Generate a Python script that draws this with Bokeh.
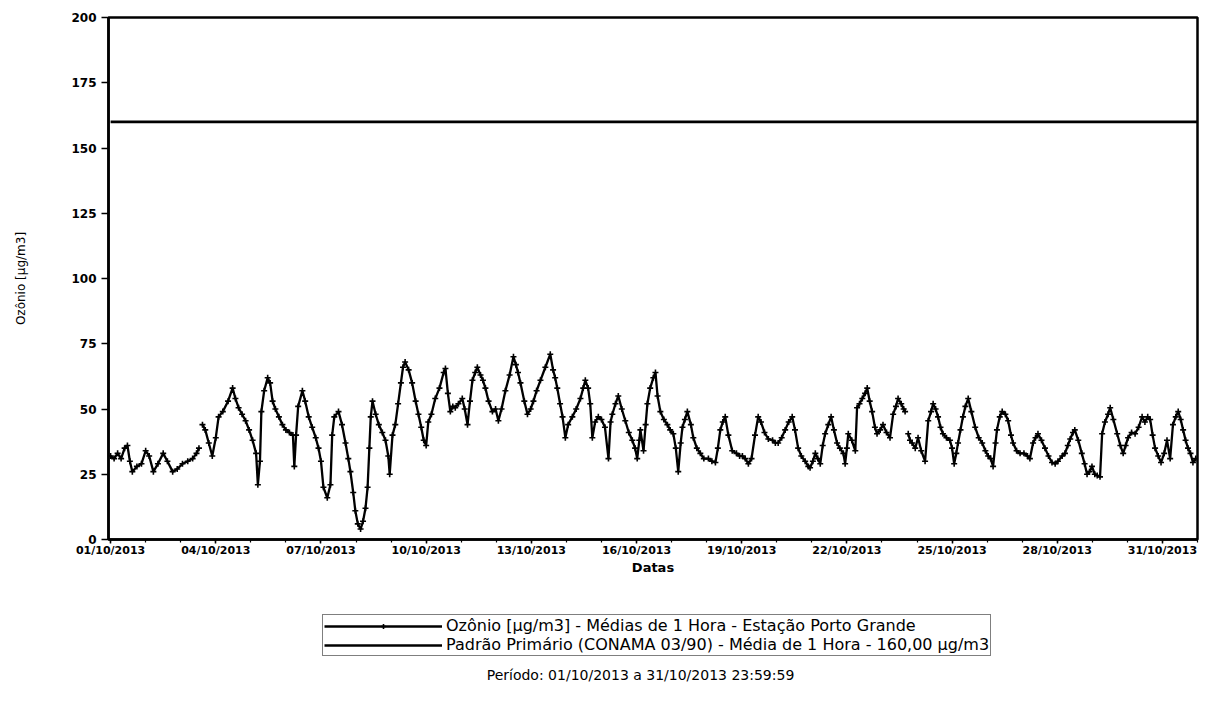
import numpy as np
from bokeh.plotting import figure
from bokeh.layouts import column
from bokeh.models import Range1d, FixedTicker, Legend, LegendItem, Label
from bokeh.embed import file_html
from bokeh.resources import INLINE

# ---------------- data ----------------
tick_days = [0, 3, 6, 9, 12, 15, 18, 21, 24, 27, 30]
tick_labels = ["01/10/2013", "04/10/2013", "07/10/2013", "10/10/2013",
               "13/10/2013", "16/10/2013", "19/10/2013", "22/10/2013",
               "25/10/2013", "28/10/2013", "31/10/2013"]
minor_days = list(range(0, 32))
y_ticks = [0, 25, 50, 75, 100, 125, 150, 175, 200]

padrao = 160.0
period_start = 0.0       # 01/10/2013 00:00
period_end = 31.0        # 31/10/2013 23:59:59

nan = float("nan")
# time in days since 01/10/2013 00:00
t_days = [
    0.00, 0.10, 0.20, 0.30, 0.40, 0.48, 0.55, 0.62, 0.75, 0.88,
    1.00, 1.10, 1.22, 1.35, 1.50, 1.62, 1.77, 1.90, 2.05, 2.20,
    2.34, 2.45, 2.52, 2.56, 2.62, 2.70, 2.80, 2.90, 3.00, 3.08,
    3.20, 3.35, 3.48, 3.56, 3.65, 3.75, 3.85, 3.95, 4.05, 4.15,
    4.20, 4.26, 4.30, 4.38, 4.48, 4.55, 4.62, 4.70, 4.80, 4.90,
    5.00, 5.10, 5.20, 5.24, 5.29, 5.35, 5.47, 5.55, 5.65, 5.75,
    5.85, 5.93, 6.00, 6.07, 6.18, 6.27, 6.32, 6.38, 6.50, 6.60,
    6.70, 6.78, 6.84, 6.92, 6.98, 7.05, 7.13, 7.20, 7.27, 7.33,
    7.38, 7.42, 7.47, 7.56, 7.65, 7.75, 7.84, 7.92, 7.96, 8.04,
    8.12, 8.20, 8.28, 8.34, 8.40, 8.50, 8.60, 8.70, 8.78, 8.86,
    8.93, 9.00, 9.06, 9.15, 9.26, 9.38, 9.50, 9.55, 9.62, 9.69,
    9.76, 9.83, 9.92, 10.03, 10.10, 10.18, 10.25, 10.32, 10.40, 10.46,
    10.55, 10.62, 10.69, 10.78, 10.89, 10.98, 11.06, 11.15, 11.26, 11.38,
    11.49, 11.56, 11.62, 11.69, 11.80, 11.89, 11.98, 12.06, 12.15, 12.26,
    12.40, 12.54, 12.62, 12.68, 12.74, 12.82, 12.89, 12.97, 13.05, 13.17,
    13.28, 13.40, 13.48, 13.54, 13.62, 13.68, 13.74, 13.82, 13.91, 14.00,
    14.10, 14.20, 14.26, 14.31, 14.40, 14.48, 14.58, 14.68, 14.78, 14.88,
    14.96, 15.02, 15.08, 15.11, 15.20, 15.26, 15.31, 15.39, 15.48, 15.54,
    15.60, 15.68, 15.78, 15.88, 15.96, 16.05, 16.12, 16.19, 16.26, 16.31,
    16.38, 16.45, 16.55, 16.62, 16.72, 16.82, 16.92, 17.05, 17.15, 17.25,
    17.32, 17.39, 17.46, 17.53, 17.62, 17.73, 17.85, 17.94, 18.02, 18.10,
    18.19, 18.28, 18.38, 18.47, 18.55, 18.65, 18.76, 18.88, 18.96, 19.04,
    19.14, 19.24, 19.34, 19.44, 19.52, 19.61, 19.70, 19.81, 19.90, 19.95,
    20.03, 20.10, 20.17, 20.24, 20.31, 20.38, 20.47, 20.55, 20.63, 20.72,
    20.80, 20.90, 20.95, 21.00, 21.04, 21.14, 21.24, 21.29, 21.36, 21.44,
    21.52, 21.58, 21.65, 21.72, 21.80, 21.86, 21.95, 22.03, 22.13, 22.23,
    22.32, 22.40, 22.46, 22.55, 22.62, 22.66, 22.70, 22.75, 22.80, 22.86,
    22.95, 23.03, 23.12, 23.23, 23.32, 23.40, 23.46, 23.53, 23.60, 23.67,
    23.74, 23.84, 23.94, 24.00, 24.06, 24.12, 24.17, 24.24, 24.31, 24.38,
    24.46, 24.55, 24.66, 24.76, 24.86, 24.95, 25.03, 25.10, 25.17, 25.24,
    25.28, 25.36, 25.43, 25.52, 25.60, 25.68, 25.74, 25.84, 25.94, 26.05,
    26.15, 26.22, 26.31, 26.38, 26.45, 26.55, 26.65, 26.75, 26.85, 26.94,
    27.02, 27.14, 27.22, 27.30, 27.37, 27.45, 27.50, 27.60, 27.70, 27.78,
    27.85, 27.92, 27.99, 28.07, 28.14, 28.22, 28.28, 28.36, 28.45, 28.51,
    28.60, 28.71, 28.80, 28.88, 28.95, 29.02, 29.12, 29.22, 29.32, 29.42,
    29.50, 29.58, 29.65, 29.72, 29.79, 29.88, 29.96, 30.05, 30.13, 30.22,
    30.30, 30.38, 30.45, 30.52, 30.59, 30.66, 30.73, 30.80, 30.87, 30.95,
]
ozone = [
    32, 31, 33, 31, 35, 36, 30, 26, 28, 29,
    34, 32, 26, 29, 33, 30, 26, 27, 29, 30,
    31, 33, 35, nan, 44, 42, 37, 32, 39, 47,
    49, 53, 58, 54, 50.5, 48, 45.5, 42, 38, 33,
    21, 30, 49, 57, 62, 60, 53, 50, 47, 44,
    42, 41, 40, 28, 40, 51, 57, 53, 47, 43,
    39, 35, 30, 20, 16, 21, 40, 47, 49, 44,
    37, 31, 26, 18, 11, 6, 4, 7, 12, 20,
    35, 47, 53, 48, 44, 41, 38, 32, 25, 40,
    44, 52, 60, 66, 68, 65, 60, 53, 48, 43,
    38, 36, 45, 48, 54, 58, 64, 65.5, 56, 49,
    51, 50.5, 52, 54, 50, 44, 53, 61, 64, 66,
    63, 61, 58, 53, 49, 50, 45.5, 50, 57, 63,
    70, 67, 64, 60, 53, 48, 50, 53, 57, 61,
    66, 71, 65, 62, 58, 52, 47, 39, 44, 47,
    50, 54, 58, 61, 58, 52, 39, 45, 47, 46,
    43, 31, 45, 48, 52, 55, 50, 45.5, 41, 38,
    35, 31, 38, 42, 34, 44, 52, 58, 62, 64,
    55, 49, 46, 44, 42, 40.5, 35, 26, 37, 43,
    46, 49, 44, 39, 35, 33, 31, 31, 30, 29.5,
    35, 42, 45, 47, 40, 34, 33, 32, 32, 31,
    29, 31, 40, 47, 45, 41, 38.5, 38, 37, 37,
    39, 42, 45, 47, 42, 35, 32, 30, 28, 27.5,
    30, 33, 31, 29, 36, 40.5, 44, 47, 42, 37,
    35, 33, 29, 35, 40.5, 38, 34, 50.5, 52, 54,
    56, 58, 53, 49, 43, 40.5, 42, 44, 41, 39,
    48, 51, 54, 52, 50, 49, nan, 40.5, 38, 37,
    35, 39, 34, 30, 45.5, 49, 52, 50, 47, 43,
    40.5, 39, 38, 35, 29, 33, 37, 42, 47, 51,
    54, 49, 43, 39, 37, 34, 32, 31, 28, 37,
    42, 47, 49, 48, 45.5, 40, 37, 34, 33, 33,
    32, 31, 37, 39, 40.5, 38, 35, 32, 29.5, 29,
    30, 32, 33, 36, 38.5, 41, 42, 38, 33, 29,
    25, 26, 28, 25, 24.5, 24, 40.5, 45, 48, 50.5,
    46, 40.5, 36, 33, 36, 39, 41, 40.5, 43, 47,
    45, 47, 46, 40, 35, 32, 29.5, 33, 38, 31,
    44, 47, 49, 46, 42, 38, 35, 33, 29.5, 31,
]

series_label = "Ozônio [µg/m3] - Médias de 1 Hora - Estação Porto Grande"
padrao_label = "Padrão Primário (CONAMA 03/90) - Média de 1 Hora - 160,00 µg/m3"
period_text = "Período: 01/10/2013 a 31/10/2013 23:59:59"

tx = np.array(t_days, dtype=float)
oz = np.array(ozone, dtype=float)

# ---------------- main chart ----------------
p = figure(width=1205, height=601, output_backend="svg", toolbar_location=None,
           x_range=Range1d(-0.06, 31.0), y_range=Range1d(0, 200),
           min_border_left=108, min_border_right=8, min_border_top=17,
           min_border_bottom=62)
p.background_fill_color = "white"
p.border_fill_color = "white"
p.outline_line_color = "black"
p.outline_line_width = 2.5
p.xgrid.visible = False
p.ygrid.visible = False

p.line(tx, oz, line_color="black", line_width=2.3)
p.scatter(tx, oz, marker="cross", size=6, line_color="black", line_width=1.6)
p.line([period_start, period_end], [padrao, padrao], line_color="black", line_width=2.6)

xa = p.xaxis[0]
xa.ticker = FixedTicker(ticks=tick_days, minor_ticks=minor_days)
xa.major_label_overrides = {d: l for d, l in zip(tick_days, tick_labels)}
xa.axis_label = "Datas"
ya = p.yaxis[0]
ya.ticker = FixedTicker(ticks=y_ticks, minor_ticks=[])
ya.axis_label = "Ozônio [µg/m3]"

for ax in (xa, ya):
    ax.axis_line_color = "black"
    ax.axis_line_width = 2.5
    ax.major_tick_line_color = "black"
    ax.major_tick_line_width = 1.5
    ax.major_tick_in = 0
    ax.minor_tick_line_color = "black"
    ax.minor_tick_line_width = 1.2
    ax.minor_tick_in = 0
    ax.major_label_text_font = "DejaVu Sans"
    ax.major_label_text_font_style = "bold"
    ax.major_label_text_color = "black"
    ax.axis_label_text_color = "black"

xa.major_tick_out = 4
xa.minor_tick_out = 3
xa.major_label_standoff = 0
xa.major_label_text_font_size = "11px"
xa.axis_label_standoff = 0
xa.axis_label_text_font = "DejaVu Sans"
xa.axis_label_text_font_style = "bold"
xa.axis_label_text_font_size = "13px"

ya.major_tick_out = 7
ya.minor_tick_out = 0
ya.major_label_standoff = 5
ya.major_label_text_font_size = "12px"
ya.axis_label_standoff = 40
ya.axis_label_text_font = "DejaVu Sans"
ya.axis_label_text_font_style = "normal"
ya.axis_label_text_font_size = "12px"

# ---------------- legend strip under the chart ----------------
q = figure(width=1205, height=100, output_backend="svg", toolbar_location=None,
           x_range=Range1d(0, 1), y_range=Range1d(0, 1),
           x_axis_type=None, y_axis_type=None,
           min_border_left=108, min_border_right=8, min_border_top=0,
           min_border_bottom=0)
q.outline_line_color = None
q.background_fill_color = "white"
q.border_fill_color = "white"

# legend keys (not drawn in this strip; only their legend swatches are shown)
k_line = q.line(tx, oz, line_color="black", line_width=2.3, visible=False)
k_pts = q.scatter(tx, oz, marker="cross", size=6, line_color="black", line_width=1.6, visible=False)
k_pad = q.line([period_start, period_end], [padrao, padrao], line_color="black",
               line_width=2.6, visible=False)

legend = Legend(items=[LegendItem(label=series_label, renderers=[k_line, k_pts]),
                       LegendItem(label=padrao_label, renderers=[k_pad])],
                location=(214, 45), orientation="vertical",
                glyph_width=118, glyph_height=12, label_height=12,
                label_standoff=4, padding=1, spacing=-4, margin=0,
                border_line_color="black", border_line_width=1.2,
                background_fill_color="white", background_fill_alpha=1,
                inactive_fill_alpha=0,
                label_text_font="DejaVu Sans", label_text_font_size="16px",
                label_text_color="black")
q.add_layout(legend)

q.add_layout(Label(x=532, y=27, x_units="screen", y_units="screen", text=period_text,
                   text_align="center", text_baseline="middle", text_font="DejaVu Sans",
                   text_font_size="14px", text_color="black"))

layout = column(p, q, spacing=0)
open("out.html", "w").write(file_html(layout, INLINE))
